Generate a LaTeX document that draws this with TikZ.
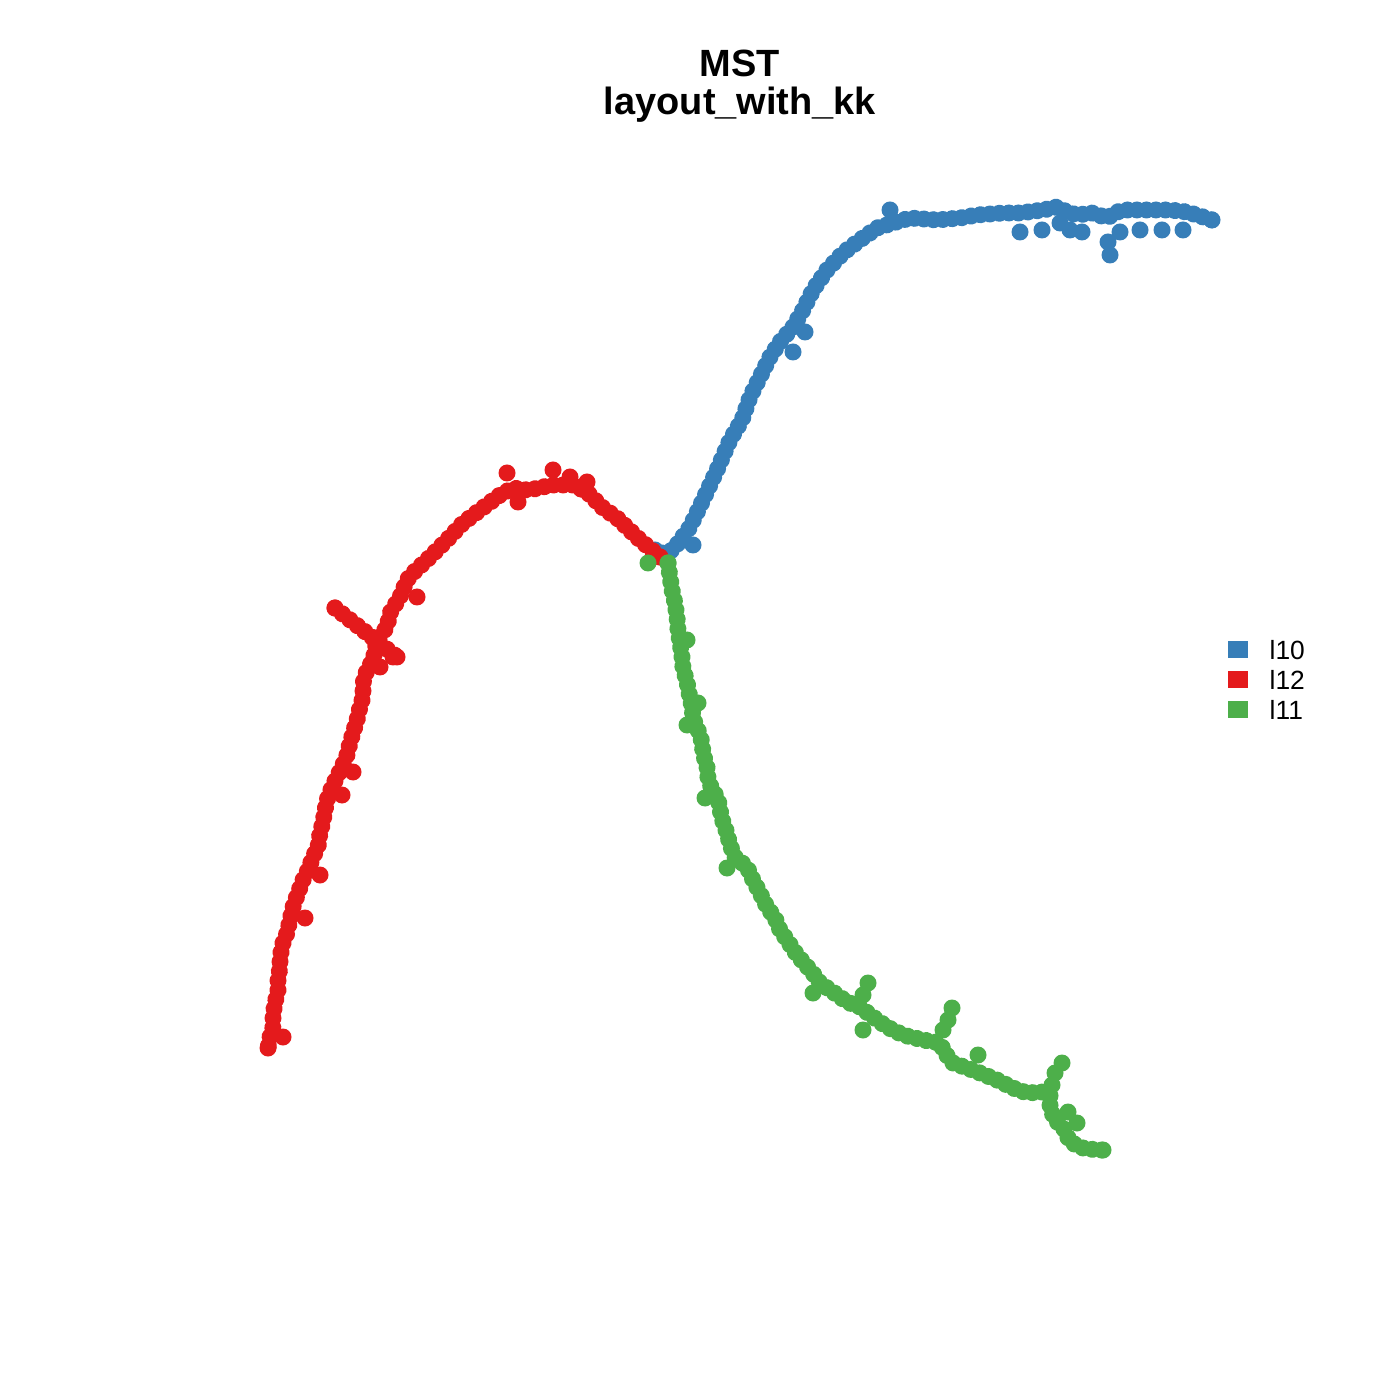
\documentclass[tikz,border=0pt]{standalone}
\usepackage{fontspec}
\setmainfont{Liberation Sans}
\usetikzlibrary{decorations.markings}
\definecolor{cblue}{HTML}{377EB8}
\definecolor{cred}{HTML}{E41A1C}
\definecolor{cgreen}{HTML}{4DAF4A}
\tikzset{
  dotline/.style={decoration={markings,
      mark=between positions 0 and 1 step 0.95mm with {\fill[#1] (0,0) circle (0.85mm);}},
      postaction=decorate},
  legsq/.style={fill=#1, draw=none, minimum width=2mm, minimum height=1.7mm, inner sep=0pt},
  legtxt/.style={anchor=west, inner sep=0pt, font=\fontsize{7.5}{9}\selectfont},
  titletxt/.style={inner sep=0pt, font=\fontsize{10.8}{13}\selectfont\bfseries}
}
\begin{document}
\begin{tikzpicture}[x=0.1mm,y=-0.1mm]
\useasboundingbox (0,0) rectangle (1400,1400);
\fill[white] (0,0) rectangle (1400,1400);
% blue
\path[dotline=cblue] (662,553)--(673,550)--(690,527)--(703,500)--(717,470)--(730,440)--(742,420)--(750,397)--(760,377)--(770,357)--(780,342)--(793,327)--(803,310)--(813,290)--(827,270)--(843,253)--(860,240)--(877,228)--(893,223)--(910,218)--(937,220)--(960,218)--(977,215)--(1003,213)--(1020,213)--(1043,210)--(1057,207)--(1067,212)--(1077,215)--(1093,213)--(1107,218)--(1117,212)--(1127,210)--(1143,210)--(1157,210)--(1170,210)--(1187,212)--(1200,216)--(1212,220);
\foreach \p in {(655,550),(1212,220),(693,545),(793,352),(805,332),(890,210),(1020,232),(1042,230),(1060,223),(1070,230),(1082,232),(1108,242),(1110,255),(1120,232),(1140,230),(1162,230),(1183,230)}
  \fill[cblue] \p circle (0.85mm);
% red
\path[dotline=cred] (660,557)--(640,540)--(617,518)--(603,508)--(587,492)--(573,485)--(560,485)--(550,485)--(540,488)--(527,490)--(513,488)--(500,495)--(480,510)--(463,523)--(447,540)--(430,557)--(413,573)--(407,580)--(400,597)--(390,613)--(387,627)--(377,640)--(373,660)--(367,670)--(363,683)--(363,697)--(360,707)--(357,720)--(353,733)--(350,743)--(347,755)--(342,767)--(337,777)--(332,787)--(327,800)--(325,810)--(323,822)--(320,833)--(318,847)--(313,857)--(308,870)--(303,880)--(298,893)--(293,907)--(290,920)--(287,933)--(283,943)--(280,957)--(280,967)--(278,980)--(278,990)--(275,1003)--(273,1015)--(273,1027)--(270,1037)--(268,1048);
\path[dotline=cred] (335,608)--(397,657);
\foreach \p in {(660,557),(268,1048),(335,608),(397,657),(507,473),(518,502),(553,470),(570,477),(587,482),(417,597),(393,657),(380,667),(353,772),(342,795),(320,875),(305,918),(283,1037)}
  \fill[cred] \p circle (0.85mm);
% green
\path[dotline=cgreen] (668,563)--(670,577)--(672,590)--(675,603)--(677,617)--(678,630)--(680,643)--(682,657)--(683,668)--(687,682)--(689,693)--(692,707)--(693,718)--(698,730)--(702,742)--(703,753)--(707,767)--(708,778)--(712,790)--(718,798)--(720,810)--(723,822)--(727,833)--(730,845)--(735,857)--(747,867)--(753,880)--(760,893)--(767,907)--(775,918)--(780,930)--(787,940)--(795,952)--(803,962)--(812,972)--(820,983)--(833,992)--(847,1002)--(860,1007)--(873,1017)--(887,1027)--(903,1035)--(923,1040)--(940,1043)--(945,1053)--(953,1063)--(967,1068)--(980,1073)--(997,1080)--(1013,1088)--(1027,1093)--(1043,1092)--(1050,1095)--(1050,1108)--(1055,1120)--(1063,1127)--(1070,1142)--(1083,1148)--(1097,1150)--(1103,1150);
\foreach \p in {(668,563),(1103,1150),(648,563),(687,640),(698,703),(687,725),(705,798),(727,868),(813,993),(868,983),(863,995),(863,1030),(952,1008),(948,1020),(943,1030),(978,1055),(1062,1063),(1055,1073),(1052,1085),(1068,1112),(1077,1123)}
  \fill[cgreen] \p circle (0.85mm);
% title
\node[titletxt] (t1) at (740,63) {MST};
\node[titletxt] (t2) at (740,105) {layout\_with\_kk};
% legend
\node[legsq=cblue] (s1) at (1238,650) {};
\node[legsq=cred] (s2) at (1238,680) {};
\node[legsq=cgreen] (s3) at (1238,710) {};
\node[legtxt] (l1) at (1269,650) {l10};
\node[legtxt] (l2) at (1269,680) {l12};
\node[legtxt] (l3) at (1269,710) {l11};
\end{tikzpicture}
\end{document}
